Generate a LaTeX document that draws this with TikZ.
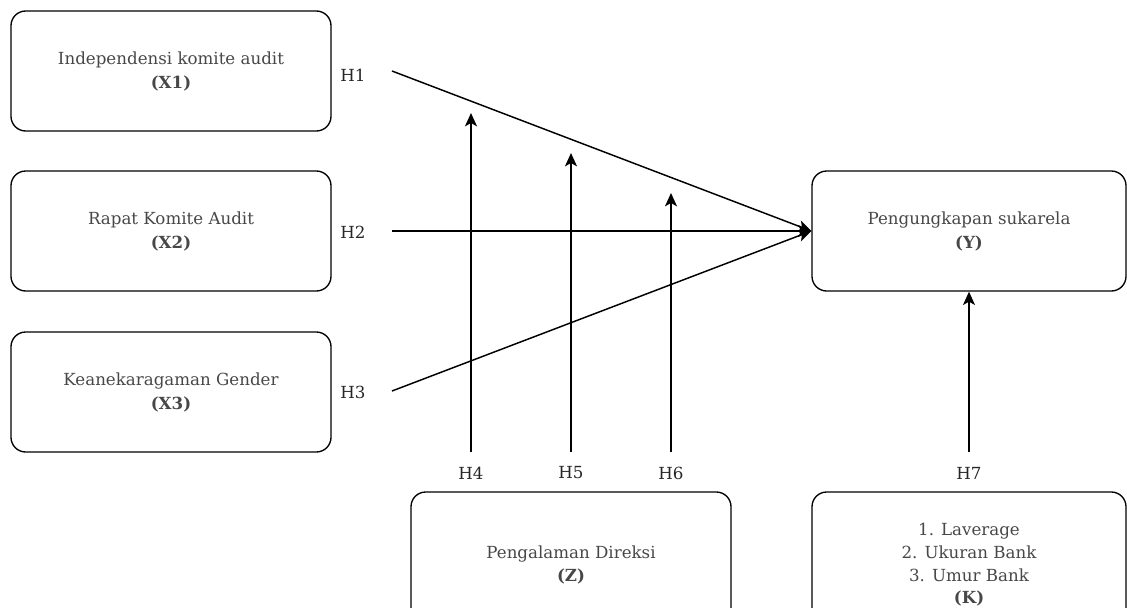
\documentclass[tikz,border=0pt]{standalone}
\usepackage{fontspec}
\setmainfont{DejaVu Serif}
\usetikzlibrary{arrows.meta}

\begin{document}
\begin{tikzpicture}[x=0.75pt, y=-0.75pt, >={Stealth[length=10pt, width=9pt, inset=2.5pt]},
    var/.style={draw, line width=1pt, rounded corners=11pt, minimum width=240pt,
        minimum height=90pt, align=center, text=black!72, font=\fontsize{12.5}{18}\selectfont},
    hyp/.style={text=black!85, font=\fontsize{12.5}{14}\selectfont},
    link/.style={->, line width=1.1pt}]
    \useasboundingbox (0,0) rectangle (1127,607);
    \node[var] (x1) at (171,71) {Independensi komite audit\\\textbf{(X1)}};
    \node[var] (x2) at (171,231) {Rapat Komite Audit\\\textbf{(X2)}};
    \node[var] (x3) at (171,392) {Keanekaragaman Gender\\\textbf{(X3)}};
    \node[var, minimum width=235.5pt] (y) at (969,231) {Pengungkapan sukarela\\\textbf{(Y)}};
    \node[var, minimum height=109.5pt, font=\fontsize{12.5}{17}\selectfont] (z) at (571,565)
        {Pengalaman Direksi\\\textbf{(Z)}};
    \node[var, minimum width=235.5pt, minimum height=109.5pt, font=\fontsize{12.5}{17}\selectfont] (k) at (969,565)
        {1. Laverage\\2. Ukuran Bank\\3. Umur Bank\\\textbf{(K)}};

    \node[hyp] (h1) at (353,75) {H1};
    \node[hyp] (h2) at (353,232) {H2};
    \node[hyp] (h3) at (353,392) {H3};
    \node[hyp] (h4) at (471,473) {H4};
    \node[hyp] (h5) at (571,473) {H5};
    \node[hyp] (h6) at (671,473) {H6};
    \node[hyp] (h7) at (969,473) {H7};

    \coordinate (s1) at (392,71);
    \coordinate (s2) at (392,231);
    \coordinate (s3) at (392,391);
    \draw[link] (s1) -- (y.west);
    \draw[link] (s2) -- (y.west);
    \draw[link] (s3) -- (y.west);

    % moderasi Z
    \coordinate (b4) at (471,452);
    \coordinate (t4) at (471,113);
    \coordinate (b5) at (571,452);
    \coordinate (t5) at (571,153);
    \coordinate (b6) at (671,452);
    \coordinate (t6) at (671,193);
    \draw[link] (b4) -- (t4);
    \draw[link] (b5) -- (t5);
    \draw[link] (b6) -- (t6);

    % kontrol K
    \draw[link] (y.south |- b4) -- (y.south);
\end{tikzpicture}
\end{document}
